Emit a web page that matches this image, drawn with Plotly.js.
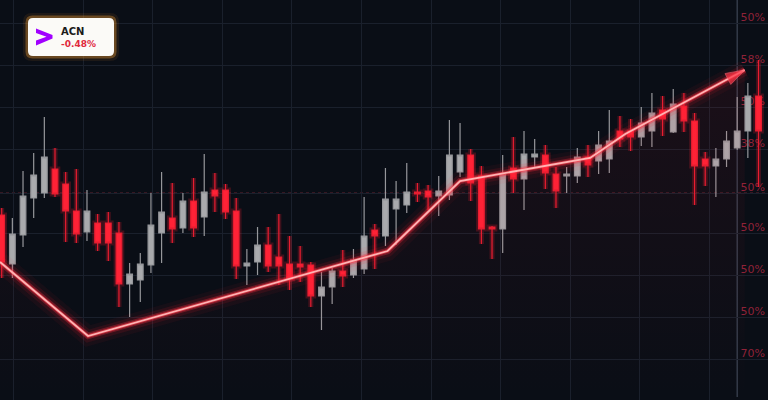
<!DOCTYPE html>
<html>
<head>
<meta charset="utf-8">
<script src="https://cdn.plot.ly/plotly-3.0.1.min.js"></script>
<style>
html,body{margin:0;padding:0;background:#0a0e16;}
#chart{width:768px;height:400px;}
</style>
</head>
<body>
<div id="chart"></div>
<script>
// ---- data ----
const ticker = "ACN";
const changeText = "-0.48%";

const opens  = [46.25,34,41.25,50.5,51.75,57.75,54,47.25,42,44.25,44.25,41.75,29,30,33.75,41.75,45.5,43,49.75,45.75,52.5,52.5,47.25,33.5,34.5,38.75,35.75,34,34,33.75,26,28.25,32.25,31.25,32.75,42.5,41,47.75,48.75,52,52.25,51,51.25,57,61.25,56,43.25,42.75,58,55.25,60.75,61.25,56.5,56,56,60.75,59.75,60.25,67.25,67.25,65.75,67.25,72.5,67,73.5,69.75,60.25,58.5,60.25,63,67.25,76];
const highs  = [48,45.5,57.25,61.75,70.75,63,57,57.75,52.5,46.5,47,44.5,34.25,36.75,51.75,57,54.25,51.75,55.5,61.5,56.75,54,50.5,37.75,43.25,43.25,46.5,41,38.5,34.5,32,33,37.5,37.75,50.75,44,58,54.75,59.25,54.25,53.75,56,70,69.25,62.75,58.5,43.5,61.25,65.75,67.25,65.25,63.75,58.25,58.25,63,63.75,67.25,72.5,71,70.25,73.25,76.75,76,77.75,76.75,71.75,62,63,67.25,75.75,79.25,85];
const lows   = [30.5,30.5,38.25,45.5,50.5,50.75,39.5,39.25,39.75,37.25,34.75,23.25,20.75,24.5,31.75,34.25,39.25,41.75,40.75,41,47,45.25,30.25,28.75,31.25,32,28.75,27.5,29.5,23.25,17.5,24,28.25,30.5,31.5,32.75,38.5,38.75,46.75,49.5,47.5,46,50,55.75,49.75,39,35.25,36.75,51.75,47.5,58.25,52.75,48,51.75,54.25,55.75,56.5,56.75,63.25,62.25,63.5,63.25,66,66.75,67,48.75,53.5,50.75,58.25,62.5,60.5,53.25];
const closes = [34.5,41.5,51,56.25,60.75,51.5,47.25,41.5,47.25,39.25,39.25,29,31.5,34,43.75,47,42.75,49.75,43,52,51,47,33.5,34.25,38.75,33.5,33.5,30.25,33.25,26,28.25,32.25,31,35,41,41,50.25,50.25,52,51.5,50.75,52.25,61.25,61.25,54.25,42.75,42.75,56.5,55.25,61.5,61.5,56.75,52.25,56.5,60.75,58.75,63.75,64.75,65.25,65.75,69.25,71.75,70.25,74,69.75,58.5,58.5,60.25,64.75,67.25,76,67.25];
const sessions = opens.map((_, i) => i);

// trend line (session position, price)
const trendX = [-0.16, 8.1, 36.2, 43, 55.2, 58.5, 69.7];
const trendY = [34.5, 16, 37.25, 54.75, 60.5, 66.5, 82.5];

// right axis labels
const levelVals  = [94.25, 83.75, 73.25, 62.75, 51.75, 41.75, 31.25, 20.75, 10.25];
const levelTexts = ["50%", "58%", "50%", "38%", "50%", "50%", "50%", "50%", "70%"];
const markedLevel = 51.75;
const currentSession = 69;

// ---- drawing ----
const W = 768, H = 400;
const px = x => x / W, py = y => 1 - y / H;
function roundRect(x0, y0, x1, y1, r) {
  const p = (x, y) => px(x) + ',' + py(y);
  return 'M' + p(x0 + r, y0) + ' L' + p(x1 - r, y0) + ' Q' + p(x1, y0) + ' ' + p(x1, y0 + r) +
    ' L' + p(x1, y1 - r) + ' Q' + p(x1, y1) + ' ' + p(x1 - r, y1) +
    ' L' + p(x0 + r, y1) + ' Q' + p(x0, y1) + ' ' + p(x0, y1 - r) +
    ' L' + p(x0, y0 + r) + ' Q' + p(x0, y0) + ' ' + p(x0 + r, y0) + ' Z';
}

const traces = [];
// faint glow under trend
traces.push({
  type: 'scatter', mode: 'lines', x: trendX, y: trendY, hoverinfo: 'skip',
  line: {width: 0, color: 'rgba(0,0,0,0)'}, fill: 'tozeroy',
  fillgradient: {type: 'vertical', colorscale: [[0, 'rgba(255,30,50,0)'], [1, 'rgba(255,30,50,0.07)']]}
});
// red candle glow
traces.push({
  type: 'candlestick', x: sessions, open: opens, high: highs, low: lows, close: closes,
  increasing: {line: {color: 'rgba(0,0,0,0)', width: 0}, fillcolor: 'rgba(0,0,0,0)'},
  decreasing: {line: {color: 'rgba(255,30,50,0.22)', width: 5}, fillcolor: 'rgba(255,30,50,0.2)'},
  hoverinfo: 'skip'
});
traces.push({
  type: 'candlestick', x: sessions, open: opens, high: highs, low: lows, close: closes,
  increasing: {line: {color: '#96979b', width: 1.2}, fillcolor: '#a9aaad'},
  decreasing: {line: {color: '#e81d30', width: 1.2}, fillcolor: '#ff2236'},
  whiskerwidth: 0
});
// trend glow layers
[[20, 'rgba(255,30,50,0.05)'], [12, 'rgba(255,30,50,0.11)'], [6.5, 'rgba(255,40,60,0.30)'], [3.5, 'rgba(255,60,75,0.6)']]
  .forEach(([w, c]) => traces.push({type: 'scatter', mode: 'lines', x: trendX, y: trendY,
    line: {width: w, color: c}, hoverinfo: 'skip'}));
traces.push({
  type: 'scatter', mode: 'lines+markers', x: trendX, y: trendY, hoverinfo: 'skip',
  line: {width: 1.8, color: '#ffb4b4'},
  marker: {symbol: 'arrow', angleref: 'previous', size: trendX.map((_, i) => i === trendX.length - 1 ? 20 : 0),
    color: '#ff3446', line: {width: 0.8, color: '#ff6a78'}}
});

const shapes = [
  {type: 'line', xref: 'x', yref: 'paper', x0: currentSession, x1: currentSession, y0: py(397), y1: 1,
    line: {color: '#3a4150', width: 1.3}, layer: 'below'},
  {type: 'line', xref: 'paper', yref: 'y', x0: 0, x1: 1, y0: markedLevel, y1: markedLevel,
    line: {color: 'rgba(170,50,70,0.55)', width: 1, dash: 'dot'}, layer: 'below'},
  // badge glow + box
  {type: 'path', xref: 'paper', yref: 'paper', path: roundRect(23, 13, 119, 61, 9),
    fillcolor: 'rgba(220,130,40,0.10)', line: {width: 0}},
  {type: 'path', xref: 'paper', yref: 'paper', path: roundRect(25.5, 15.5, 116.5, 58.5, 7),
    fillcolor: 'rgba(230,150,50,0.38)', line: {width: 0}},
  {type: 'path', xref: 'paper', yref: 'paper', path: roundRect(28, 18, 114, 56, 5),
    fillcolor: '#fbfaf7', line: {width: 0}},
  // logo chevron
  {type: 'path', xref: 'paper', yref: 'paper',
    path: 'M' + px(36) + ',' + py(28.5) + ' L' + px(52.5) + ',' + py(35) + ' L' + px(52.5) + ',' + py(38.5) +
      ' L' + px(36) + ',' + py(45.5) + ' L' + px(36) + ',' + py(40.5) + ' L' + px(46.5) + ',' + py(36.8) +
      ' L' + px(36) + ',' + py(33) + ' Z',
    fillcolor: '#a100ff', line: {width: 0}}
];

const annotations = [
  {xref: 'paper', yref: 'paper', x: px(59), y: py(31), xanchor: 'left', yanchor: 'middle', showarrow: false,
    text: '<b>' + ticker + '</b>', font: {family: 'DejaVu Sans', size: 10, color: '#1a1a1a'}},
  {xref: 'paper', yref: 'paper', x: px(59), y: py(44), xanchor: 'left', yanchor: 'middle', showarrow: false,
    text: '<b>' + changeText + '</b>', font: {family: 'DejaVu Sans', size: 9, color: '#e0283c'}}
];

const layout = {
  width: W, height: H,
  margin: {l: 0, r: 0, t: 0, b: 0},
  paper_bgcolor: '#0a0e16', plot_bgcolor: '#0a0e16',
  showlegend: false,
  boxgap: 0.24,
  xaxis: {range: [-0.16, 71.89], rangeslider: {visible: false}, showticklabels: false,
    tick0: 1.1, dtick: 6.53, showgrid: true, gridcolor: '#1a202c', gridwidth: 1, zeroline: false,
    fixedrange: true},
  yaxis: {range: [0, 100], side: 'right', ticklabelposition: 'inside', layer: 'below traces',
    tickmode: 'array', tickvals: levelVals, ticktext: levelTexts, ticklabelshift: -6,
    tickfont: {family: 'DejaVu Sans', size: 11, color: '#8e2238'},
    showgrid: true, gridcolor: '#1a202c', gridwidth: 1, zeroline: false, fixedrange: true},
  shapes: shapes, annotations: annotations
};

Plotly.newPlot('chart', traces, layout, {staticPlot: true, displayModeBar: false});
</script>
</body>
</html>
